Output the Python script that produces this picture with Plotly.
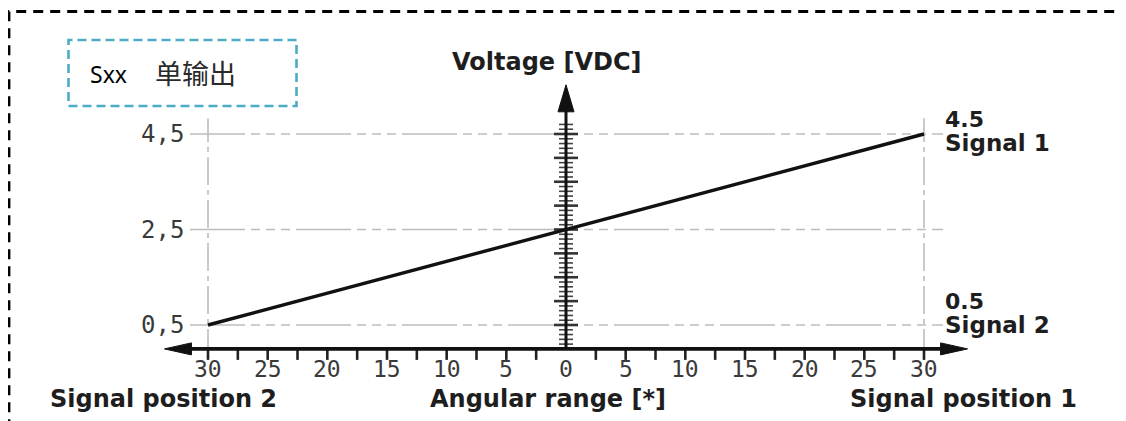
import plotly.graph_objects as go

# ---------------- data ----------------
angle_ticks = [-30, -25, -20, -15, -10, -5, 0, 5, 10, 15, 20, 25, 30]
angle_labels = ["30", "25", "20", "15", "10", "5", "0", "5", "10", "15", "20", "25", "30"]
angle_small_ticks = [-30, -27.5, -25, -22.5, -20, -17.5, -15, -12.5, -10, -7.5, -5, -2.5,
                     2.5, 5, 7.5, 10, 12.5, 15, 17.5, 20, 22.5, 25, 27.5, 30]
volt_ticks = [0.5, 2.5, 4.5]
volt_labels = ["0,5", "2,5", "4,5"]
volt_major = [0.5, 1.0, 1.5, 2.0, 2.5, 3.0, 3.5, 4.0, 4.5]
volt_minor = [0.1, 0.2, 0.3, 0.4, 0.6, 0.7, 0.8, 0.9, 1.1, 1.2, 1.3, 1.4, 1.6, 1.7, 1.8, 1.9,
              2.1, 2.2, 2.3, 2.4, 2.6, 2.7, 2.8, 2.9, 3.1, 3.2, 3.3, 3.4, 3.6, 3.7, 3.8, 3.9,
              4.1, 4.2, 4.3, 4.4, 4.6, 4.7]
signal_angle = [-30, 30]
signal_voltage = [0.5, 4.5]
signal_ends = [30, 30]
signal_end_voltage = [0.5, 4.5]
signal_value_text = ["0.5", "4.5"]
signal_name_text = ["Signal 2", "Signal 1"]
angle_limit = [-30, 30]

# ---------------- layout calibration (style) ----------------
W, H = 1126, 421
OFF = 8             # page body margin offset
PX = 716 / 60.0     # pixels per degree
PY = 47.75          # pixels per volt
XMIN = -30 - (208 - OFF) / PX
XMAX = XMIN + W / PX
YMAX = 0.5 + (325 - OFF) / PY
YMIN = YMAX - H / PY


def dx(p):
    return p / PX


def dy(p):
    return p / PY


def px(p):
    return (p - OFF) / W


def py(p):
    return 1 - (p - OFF) / H


AX_X = 33.65          # half extent of the angular axis
AX_YTOP = 5.53        # top of the voltage axis
GRID = "#bdbdbd"
INK = "#1e1e1e"
TICKFONT = dict(family="DejaVu Sans Mono", size=23, color="#3a3a3a")
BOLD = dict(family="DejaVu Sans", size=24, color=INK, weight="bold")
BOLD_R = dict(family="DejaVu Sans", size=23, color=INK, weight="bold")
BOLD_V = dict(family="DejaVu Sans", size=22, color=INK, weight="bold")

fig = go.Figure()

# horizontal grid lines (dash-dot)
for v in volt_ticks:
    fig.add_trace(go.Scatter(
        x=[-30 - dx(18), 30 + dx(19)], y=[v, v], mode="lines",
        line=dict(color=GRID, width=1.6, dash="55px,6px,9px,6px,9px,6px,9px,6px"),
        hoverinfo="skip", showlegend=False))

# vertical grid lines at the limits
for a in angle_limit:
    fig.add_trace(go.Scatter(
        x=[a, a], y=[-0.17, 4.83], mode="lines",
        line=dict(color=GRID, width=1.6, dash="28px,5px,5px,5px"),
        hoverinfo="skip", showlegend=False))

# voltage axis ticks
mx, my = [], []
for v in volt_major:
    mx += [-dx(12), dx(12), None]
    my += [v, v, None]
fig.add_trace(go.Scatter(x=mx, y=my, mode="lines", line=dict(color="#333333", width=2.6),
                         hoverinfo="skip", showlegend=False))
nx, ny = [], []
for v in volt_minor:
    nx += [-dx(7), dx(7), None]
    ny += [v, v, None]
fig.add_trace(go.Scatter(x=nx, y=ny, mode="lines", line=dict(color="#444444", width=1.6),
                         hoverinfo="skip", showlegend=False))

# angular axis ticks (downward)
tx, ty = [], []
for a in angle_small_ticks:
    tx += [a, a, None]
    ty += [0, -dy(11), None]
fig.add_trace(go.Scatter(x=tx, y=ty, mode="lines", line=dict(color="#222222", width=2.6),
                         hoverinfo="skip", showlegend=False))

# axes lines
fig.add_trace(go.Scatter(x=[-AX_X + dx(20), AX_X - dx(20)], y=[0, 0], mode="lines",
                         line=dict(color="#111111", width=3.8),
                         hoverinfo="skip", showlegend=False))
fig.add_trace(go.Scatter(x=[0, 0], y=[0, AX_YTOP - dy(20)], mode="lines",
                         line=dict(color="#111111", width=3),
                         hoverinfo="skip", showlegend=False))

# arrow heads
for sgn in (-1, 1):
    tip = sgn * AX_X
    base = tip - sgn * dx(27)
    fig.add_trace(go.Scatter(
        x=[tip, base, base, tip], y=[0, dy(6), -dy(6), 0], mode="lines",
        fill="toself", fillcolor="#111111", line=dict(color="#111111", width=1),
        hoverinfo="skip", showlegend=False))
fig.add_trace(go.Scatter(
    x=[0, dx(8), -dx(8), 0], y=[AX_YTOP, AX_YTOP - dy(27), AX_YTOP - dy(27), AX_YTOP],
    mode="lines", fill="toself", fillcolor="#111111", line=dict(color="#111111", width=1),
    hoverinfo="skip", showlegend=False))

# signal line
fig.add_trace(go.Scatter(x=signal_angle, y=signal_voltage, mode="lines",
                         line=dict(color="#111111", width=3.4),
                         hoverinfo="skip", showlegend=False))

ann = []
# angular tick labels
for a, t in zip(angle_ticks, angle_labels):
    ann.append(dict(x=a, y=0, xref="x", yref="y", text=t, showarrow=False,
                    yshift=-20, font=TICKFONT, xanchor="center", yanchor="middle"))
# voltage tick labels
for v, t in zip(volt_ticks, volt_labels):
    ann.append(dict(x=-30, y=v, xref="x", yref="y", text=t, showarrow=False,
                    xshift=-22, font=dict(family="DejaVu Sans Mono", size=24, color="#3a3a3a"),
                    xanchor="right", yanchor="middle"))
# signal labels on the right
val_shift = [24, 15]
name_shift = [0, -9]
for a, v, vt, nt, s1, s2 in zip(signal_ends, signal_end_voltage, signal_value_text,
                                 signal_name_text, val_shift, name_shift):
    ann.append(dict(x=a, y=v, xref="x", yref="y", text=vt, showarrow=False, xshift=19,
                    yshift=s1, font=BOLD_V, xanchor="left", yanchor="middle"))
    ann.append(dict(x=a, y=v, xref="x", yref="y", text=nt, showarrow=False, xshift=19,
                    yshift=s2, font=BOLD_R, xanchor="left", yanchor="middle"))

# titles
ann.append(dict(x=px(547), y=py(62), xref="paper", yref="paper", text="Voltage [VDC]",
                showarrow=False, font=BOLD, xanchor="center", yanchor="middle"))
ann.append(dict(x=px(163), y=py(399), xref="paper", yref="paper", text="Signal position 2",
                showarrow=False, font=BOLD, xanchor="center", yanchor="middle"))
ann.append(dict(x=px(548), y=py(399), xref="paper", yref="paper", text="Angular range [*]",
                showarrow=False, font=BOLD, xanchor="center", yanchor="middle"))
ann.append(dict(x=px(963), y=py(399), xref="paper", yref="paper", text="Signal position 1",
                showarrow=False, font=BOLD, xanchor="center", yanchor="middle"))
# boxed caption
ann.append(dict(x=px(88), y=py(74), xref="paper", yref="paper", text="Sxx",
                showarrow=False, font=dict(family="Noto Sans", size=23, color="#000000"),
                xanchor="left", yanchor="middle"))
ann.append(dict(x=px(153), y=py(72), xref="paper", yref="paper", text="单输出",
                showarrow=False, font=dict(family="Noto Sans CJK SC", size=27, color="#2a2a2a"),
                xanchor="left", yanchor="middle"))

shapes = [
    dict(type="rect", xref="paper", yref="paper", x0=px(9), x1=1.05, y0=-0.1, y1=py(11.5),
         line=dict(color="#000000", width=2.8, dash="10px,7px")),
    dict(type="rect", xref="paper", yref="paper", x0=px(68.5), x1=px(296.5),
         y0=py(106), y1=py(40),
         line=dict(color="#4bacc6", width=2.6, dash="9px,5px")),
]

fig.update_layout(
    width=W, height=H, autosize=False,
    margin=dict(l=0, r=0, t=0, b=0, pad=0),
    paper_bgcolor="white", plot_bgcolor="white",
    xaxis=dict(range=[XMIN, XMAX], visible=False, fixedrange=True),
    yaxis=dict(range=[YMIN, YMAX], visible=False, fixedrange=True),
    annotations=ann, shapes=shapes, showlegend=False,
)

fig.write_html("out.html")
